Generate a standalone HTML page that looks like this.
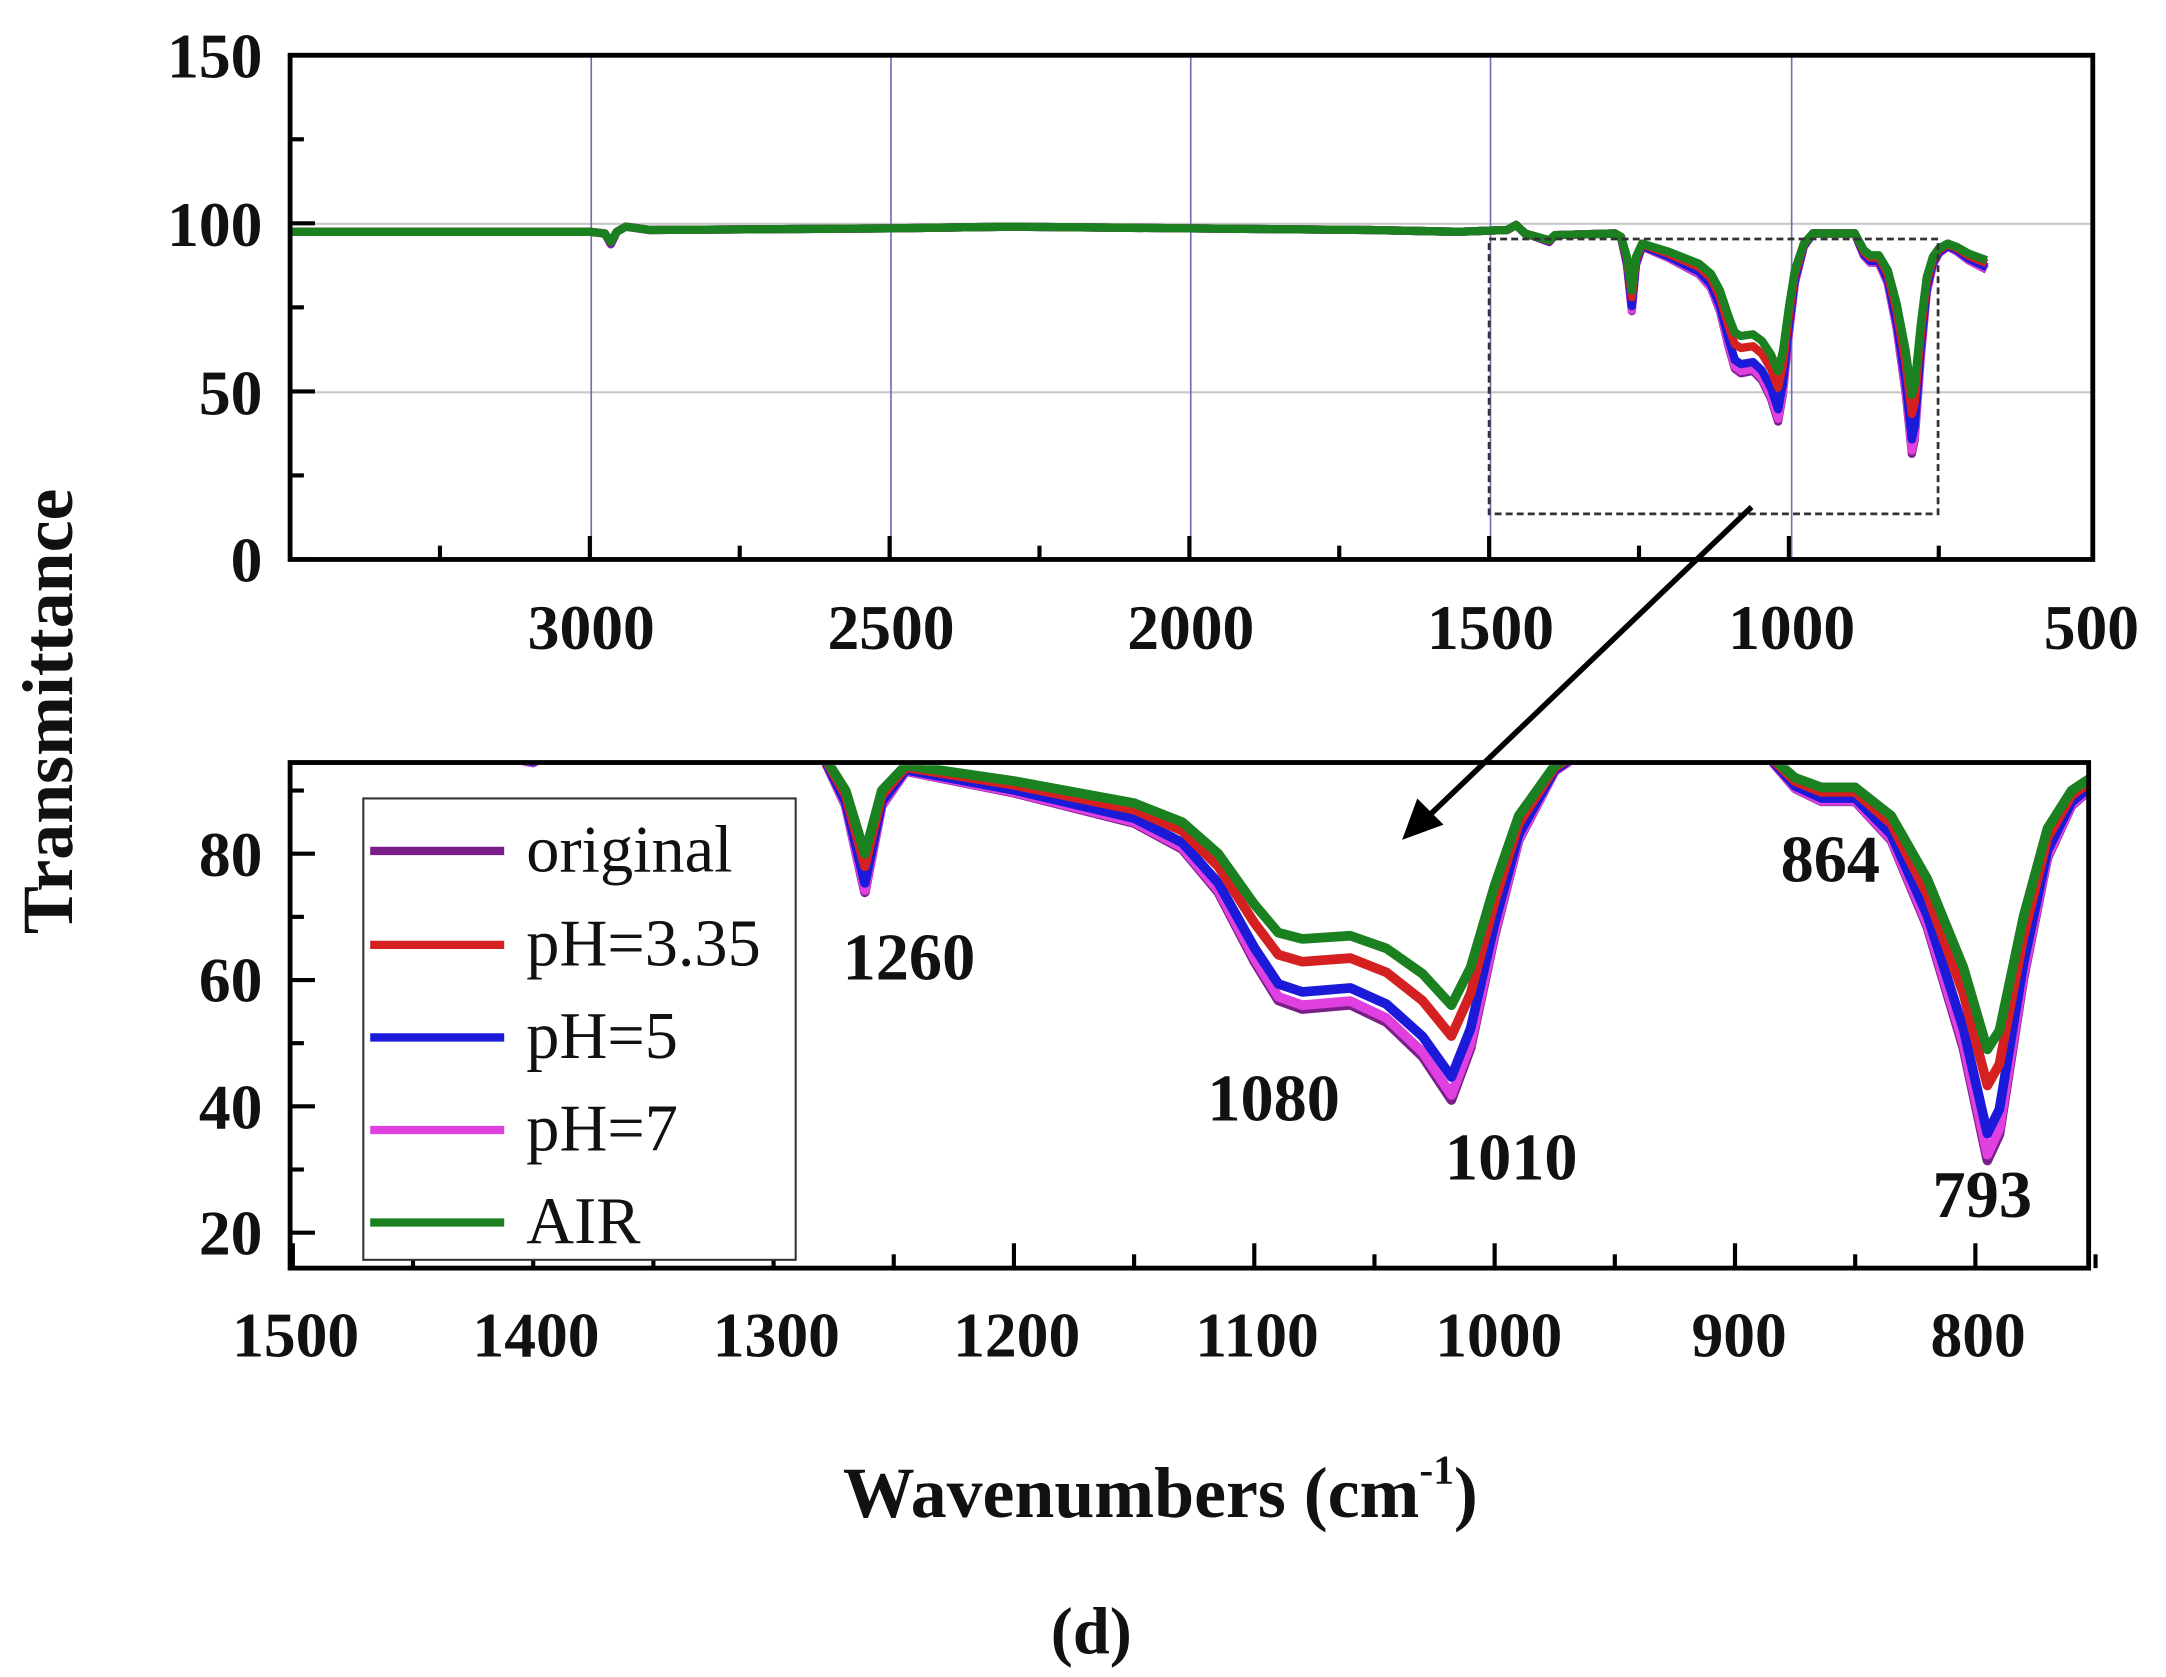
<!DOCTYPE html>
<html><head><meta charset="utf-8"><style>
html,body{margin:0;padding:0;background:#fff;}
svg{display:block;}
text{font-family:"Liberation Serif","DejaVu Serif",serif;font-weight:bold;fill:#111;}
</style></head><body>
<svg id="s" width="2166" height="1677" viewBox="0 0 1568 1214" preserveAspectRatio="none" xmlns="http://www.w3.org/2000/svg">
<defs>
<clipPath id="c1"><rect x="211" y="41" width="1303" height="363"/></clipPath>
<clipPath id="c2"><rect x="211" y="554" width="1300" height="363"/></clipPath>
</defs>
<rect width="1568" height="1214" fill="#fff"/>
<g id="topg"></g>
<g id="botg"></g>
<line x1="1268" y1="367" x2="1035" y2="590" stroke="#000" stroke-width="4"/>
<polygon points="1015,608 1026,578 1045,597" fill="#000"/>
<text font-size="46" text-anchor="end" x="190" y="56">150</text>
<text font-size="46" text-anchor="end" x="190" y="178">100</text>
<text font-size="46" text-anchor="end" x="190" y="300">50</text>
<text font-size="46" text-anchor="end" x="190" y="421">0</text>
<text font-size="46" text-anchor="middle" x="428" y="470">3000</text>
<text font-size="46" text-anchor="middle" x="645" y="470">2500</text>
<text font-size="46" text-anchor="middle" x="862" y="470">2000</text>
<text font-size="46" text-anchor="middle" x="1079" y="470">1500</text>
<text font-size="46" text-anchor="middle" x="1297" y="470">1000</text>
<text font-size="46" text-anchor="middle" x="1514" y="470">500</text>
<text font-size="46" text-anchor="end" x="190" y="634">80</text>
<text font-size="46" text-anchor="end" x="190" y="725">60</text>
<text font-size="46" text-anchor="end" x="190" y="817">40</text>
<text font-size="46" text-anchor="end" x="190" y="908">20</text>
<g font-size="46" text-anchor="middle">
<text x="214" y="982">1500</text><text x="388" y="982">1400</text><text x="562" y="982">1300</text>
<text x="736" y="982">1200</text><text x="910" y="982">1100</text><text x="1085" y="982">1000</text>
<text x="1259" y="982">900</text><text x="1432" y="982">800</text>
</g>
<g font-size="48" text-anchor="middle">
<text x="658" y="709">1260</text><text x="922" y="811">1080</text><text x="1094" y="854">1010</text>
<text x="1325" y="638">864</text><text x="1435" y="881">793</text>
</g>
<text font-size="52" text-anchor="middle" transform="translate(52,515) rotate(-90)">Transmittance</text>
<text font-size="52" text-anchor="middle" x="840" y="1098">Wavenumbers (cm<tspan font-size="30" dy="-24">-1</tspan><tspan dy="24">)</tspan></text>
<text font-size="48" text-anchor="middle" x="790" y="1197">(d)</text>
<rect x="263" y="578" width="313" height="334" fill="#fff" stroke="#333" stroke-width="1.5"/>
<g stroke-width="6">
<line x1="268" y1="616" x2="365" y2="616" stroke="#7a1f8a"/>
<line x1="268" y1="684" x2="365" y2="684" stroke="#d42020"/>
<line x1="268" y1="751" x2="365" y2="751" stroke="#1a1ad8"/>
<line x1="268" y1="818" x2="365" y2="818" stroke="#e040e0"/>
<line x1="268" y1="885" x2="365" y2="885" stroke="#1a8020"/>
</g>
<g font-size="48">
<text x="381" y="631" style="font-weight:normal">original</text>
<text x="381" y="699" style="font-weight:normal">pH=3.35</text>
<text x="381" y="766" style="font-weight:normal">pH=5</text>
<text x="381" y="833" style="font-weight:normal">pH=7</text>
<text x="381" y="900" style="font-weight:normal">AIR</text>
</g>
</svg>
<script>
(function(){
var NS="http://www.w3.org/2000/svg";
function el(p,t,a){var e=document.createElementNS(NS,t);for(var k in a)e.setAttribute(k,a[k]);p.appendChild(e);return e;}
var G=[[3500,97.5],[3000,97.5],[2975,97],[2965,94.5],[2955,97.5],[2940,99],[2900,98],[2500,98.5],[2300,99],[2000,98.5],[1700,98],[1550,97.5],[1470,98],[1455,99.5],[1440,97],[1420,96],[1400,95],[1390,96.5],[1290,97],[1280,96],[1270,90],[1262,80],[1255,90],[1245,94],[1200,91.5],[1150,88],[1130,85],[1115,80],[1100,72],[1090,67.5],[1080,66.5],[1060,67],[1045,65],[1030,61],[1018,56],[1010,62],[1000,75],[990,86],[975,94],[960,97],[890,97],[875,92],[864,90.5],[850,90.5],[835,86],[820,76],[805,62],[795,49],[790,52],[780,70],[770,84],[760,90],[750,92.5],[735,94],[720,93],[700,91],[670,89]];
var series=[["#7a1f8a",1.37],["#e040e0",1.35],["#1a1ad8",1.28],["#d42020",1.12],["#1a8020",1]];
function tv(T,k){if(T>=96.5)return T;return 96.5-(96.5-T)*k;}
var tg=document.getElementById('topg');
el(tg,'line',{x1:211,y1:162,x2:1514,y2:162,stroke:'#c8c8c8','stroke-width':1.5});
el(tg,'line',{x1:211,y1:284,x2:1514,y2:284,stroke:'#c8c8c8','stroke-width':1.5});
[428,645,862,1079,1297].forEach(function(x){el(tg,'line',{x1:x,y1:41,x2:x,y2:405,stroke:'#7070b8','stroke-width':1.2});});
var gt=el(tg,'g',{'clip-path':'url(#c1)'});
series.forEach(function(s){var d='';G.forEach(function(p,i){var x=210+(3500-p[0])*217/500,y=405-tv(p[1],s[1])*365/150;d+=(i?'L':'M')+x.toFixed(1)+','+y.toFixed(1);});el(gt,'path',{d:d,fill:'none',stroke:s[0],'stroke-width':6,'stroke-linejoin':'round'});});
el(tg,'rect',{x:1078,y:173,width:325,height:199,fill:'none',stroke:'#333','stroke-width':2,'stroke-dasharray':'5,3'});
el(tg,'rect',{x:210,y:40,width:1305,height:365,fill:'none',stroke:'#000','stroke-width':3.5});
for(var i=0;i<12;i++){var x=210+i*108.5;el(tg,'line',{x1:x,y1:405,x2:x,y2:i%2==0?388:395,stroke:'#000','stroke-width':3});}
for(var v=0;v<=150;v+=25){var y=405-v*365/150;el(tg,'line',{x1:210,y1:y,x2:v%50==0?228:220,y2:y,stroke:'#000','stroke-width':3});}
var bg=document.getElementById('botg');
var gb=el(bg,'g',{'clip-path':'url(#c2)'});
series.forEach(function(s){var d='';var f=true;G.forEach(function(p){if(p[0]>1510||p[0]<745)return;var x=212+(1500-p[0])*1.74,y=618+(80-tv(p[1],s[1]))*4.5725;d+=(f?'M':'L')+x.toFixed(1)+','+y.toFixed(1);f=false;});el(gb,'path',{d:d,fill:'none',stroke:s[0],'stroke-width':7,'stroke-linejoin':'round'});});
el(bg,'rect',{x:210,y:552,width:1302,height:366,fill:'none',stroke:'#000','stroke-width':3.5});
for(var w=1500;w>=750;w-=50){var x=212+(1500-w)*1.74;el(bg,'line',{x1:x,y1:918,x2:x,y2:w%100==0?900:908,stroke:'#000','stroke-width':3});}
for(var v=20;v<=90;v+=10){var y=618+(80-v)*4.5725;el(bg,'line',{x1:210,y1:y,x2:v%20==0?228:220,y2:y,stroke:'#000','stroke-width':3});}
})();
</script>
</body></html>
